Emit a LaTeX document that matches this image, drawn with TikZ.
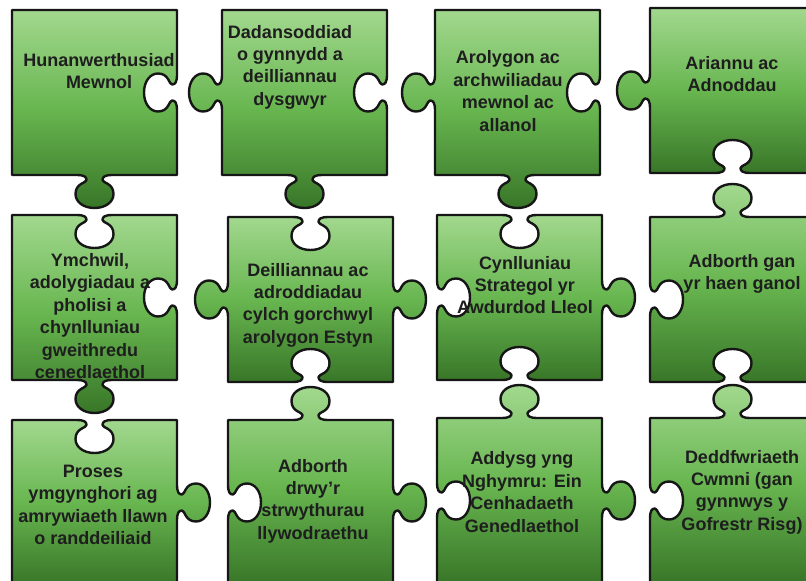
\documentclass[tikz,border=0pt]{standalone}
\usepackage{fontspec}
\setmainfont{Liberation Sans}
\definecolor{gtop}{RGB}{162,216,142}
\definecolor{gmid}{RGB}{104,182,80}
\definecolor{gbot}{RGB}{56,118,40}
\definecolor{outl}{RGB}{22,22,22}
\definecolor{txt}{RGB}{30,30,30}
% tab profile along an edge: (t, n) points, n = outward offset
\newcommand\tabseq[1]{-- #1{-18}{0} .. controls #1{-10}{0} and #1{-8}{2} .. #1{-8}{5} .. controls #1{-8}{8} and #1{-19}{8} .. #1{-19}{19} .. controls #1{-19}{27} and #1{-11}{33} .. #1{0}{33} .. controls #1{11}{33} and #1{19}{27} .. #1{19}{19} .. controls #1{19}{8} and #1{8}{8} .. #1{8}{5} .. controls #1{8}{2} and #1{10}{0} .. #1{18}{0}}
\newcommand\PT[2]{({82.5+(#1)},{-(\sT)*(#2)})}
\newcommand\PR[2]{({165+(\sR)*(#2)},{82.5+(#1)})}
\newcommand\PB[2]{({82.5-(#1)},{165+(\sB)*(#2)})}
\newcommand\PL[2]{({-(\sL)*(#2)},{82.5-(#1)})}
\newcommand\piece[6]{%
  \def\sT{#3}\def\sR{#4}\def\sB{#5}\def\sL{#6}%
  \edef\piecepath{(0,0) \tabseq\PT -- (165,0) \tabseq\PR -- (165,165) \tabseq\PB -- (0,165) \tabseq\PL -- cycle}%
  \begin{scope}[shift={(#1,#2)}]
    \path[jigsaw] \piecepath;
  \end{scope}}
\begin{document}
\begin{tikzpicture}[x=1pt,y=-1pt,
  jigsaw/.style={draw=outl, line width=2.4pt, line join=round,
    top color=gtop, bottom color=gbot, middle color=gmid},
  lbl/.style={font=\fontsize{18}{22.4}\selectfont\bfseries, text=txt, align=center, inner sep=0pt}]
\useasboundingbox (0,0) rectangle (806,581);
\clip (0,0) rectangle (806,581);
% row 1
\piece{12}{10}{0}{-1}{1}{0}
\piece{222}{10}{0}{-1}{1}{1}
\piece{435}{10}{0}{-1}{1}{1}
\piece{650}{8}{0}{0}{-1}{1}
% row 2
\piece{12}{215}{-1}{-1}{1}{0}
\piece{228}{217}{-1}{1}{-1}{1}
\piece{437}{215}{-1}{1}{-1}{-1}
\piece{650}{217}{1}{0}{-1}{-1}
% row 3
\piece{12}{420}{-1}{1}{0}{0}
\piece{228}{420}{1}{1}{0}{-1}
\piece{437}{418}{1}{1}{0}{-1}
\piece{650}{418}{1}{0}{0}{-1}
% labels
\node[lbl] (t1) at (99,71) {Hunanwerthusiad\\Mewnol};
\node[lbl] (t2) at (290,67) {Dadansoddiad\\o gynnydd a\\deilliannau\\dysgwyr};
\node[lbl] (t3) at (508,91) {Arolygon ac\\archwiliadau\\mewnol ac\\allanol};
\node[lbl] (t4) at (732,74) {Ariannu ac\\Adnoddau};
\node[lbl] (t5) at (90,316) {Ymchwil,\\adolygiadau a\\pholisi a\\chynlluniau\\gweithredu\\cenedlaethol};
\node[lbl] (t6) at (308,305) {Deilliannau ac\\adroddiadau\\cylch gorchwyl\\arolygon Estyn};
\node[lbl] (t7) at (525,285) {Cynlluniau\\Strategol yr\\Awdurdod Lleol};
\node[lbl] (t8) at (742,274) {Adborth gan\\yr haen ganol};
\node[lbl] (t9) at (93,505) {Proses\\ymgynghori ag\\amrywiaeth llawn\\o randdeiliaid};
\node[lbl] (t10) at (313,501) {Adborth\\drwy’r\\strwythurau\\llywodraethu};
\node[lbl] (t11) at (522,492) {Addysg yng\\Nghymru: Ein\\Cenhadaeth\\Genedlaethol};
\node[lbl] (t12) at (742,492) {Deddfwriaeth\\Cwmni (gan\\gynnwys y\\Gofrestr Risg)};
\end{tikzpicture}
\end{document}
